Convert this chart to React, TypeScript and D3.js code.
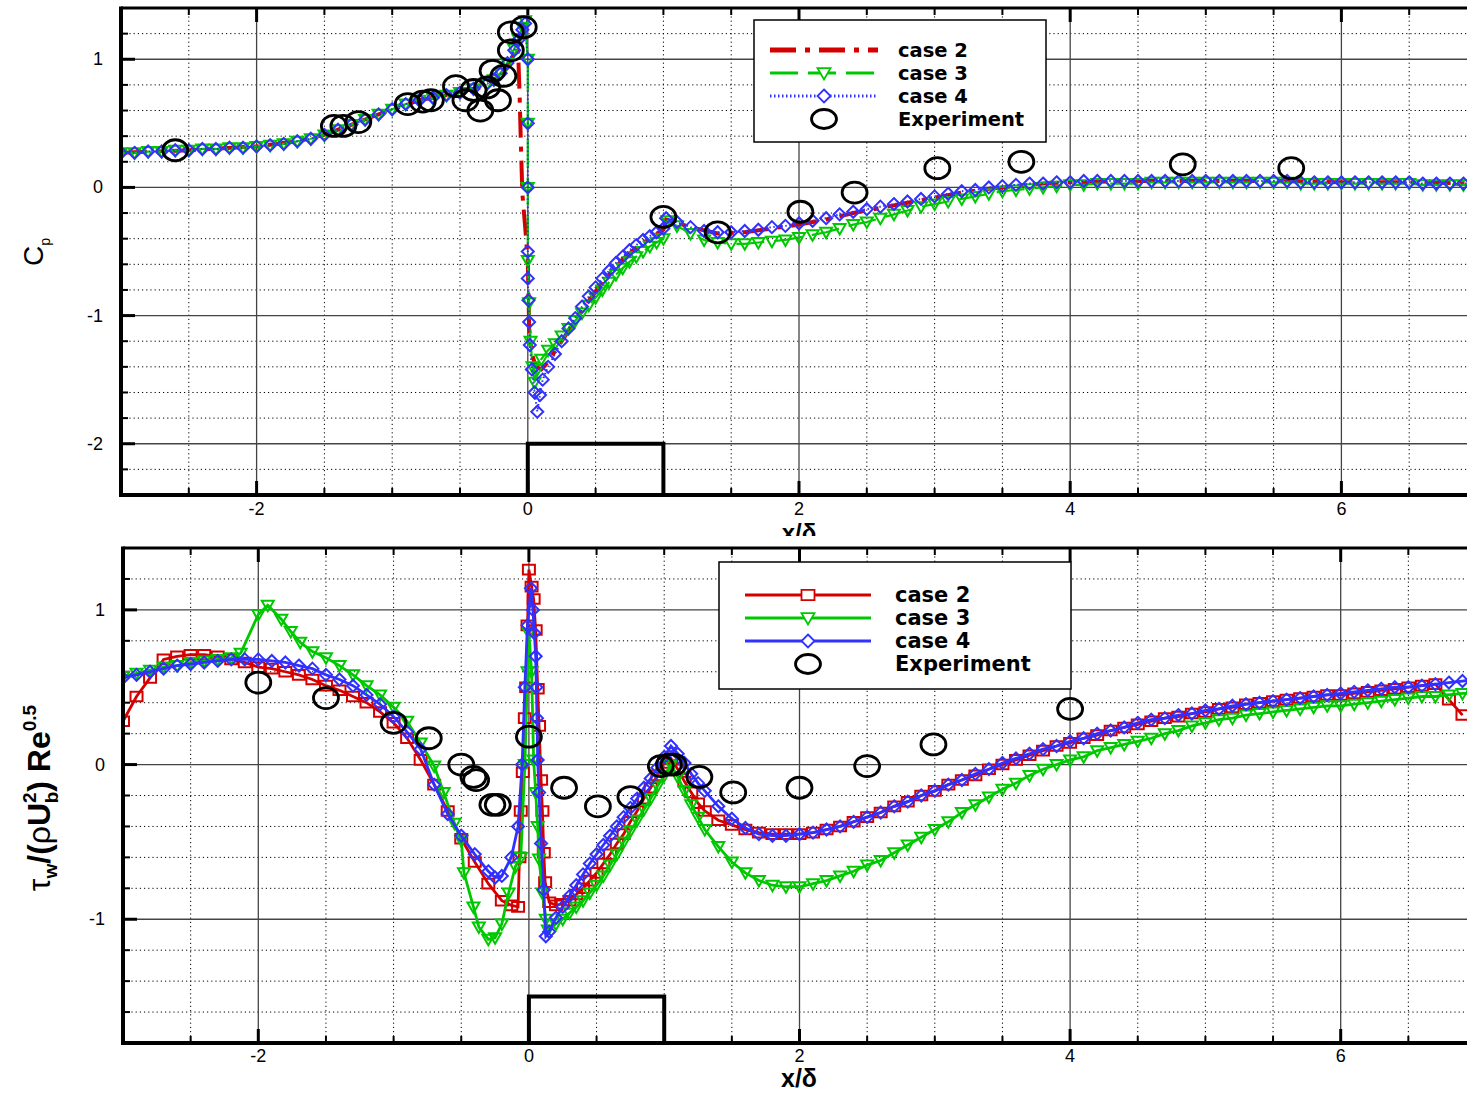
import React from 'react';
import * as d3 from 'd3';

type Pt = [number, number];
type Marker = 'tri' | 'dia' | 'sq';

// ---------- data: top panel, Cp ----------
const cpCase2: Pt[] = [
  [-3.0, 0.27], [-2.5, 0.29], [-2.0, 0.32], [-1.7, 0.36], [-1.5, 0.41], [-1.2, 0.53], [-1.0, 0.61], [-0.8, 0.68],
  [-0.6, 0.72], [-0.4, 0.77], [-0.3, 0.81], [-0.2, 0.88], [-0.15, 0.95], [-0.1, 1.04], [-0.08, 1.1], [-0.07, 1.02],
  [-0.06, 0.7], [-0.05, 0.3], [-0.04, -0.05], [-0.02, -0.3], [0.0, -0.57], [0.01, -1.1], [0.03, -1.3], [0.06, -1.4],
  [0.1, -1.42], [0.15, -1.36], [0.2, -1.28], [0.3, -1.12], [0.4, -0.96], [0.5, -0.81], [0.6, -0.68], [0.7, -0.56],
  [0.8, -0.47], [0.9, -0.4], [1.0, -0.33], [1.02, -0.25], [1.2, -0.31], [1.4, -0.36], [1.6, -0.35], [1.8, -0.32],
  [2.0, -0.29], [2.2, -0.25], [2.4, -0.2], [2.6, -0.16], [2.8, -0.12], [3.0, -0.08], [3.2, -0.04], [3.4, -0.01],
  [3.6, 0.01], [3.8, 0.03], [4.0, 0.04], [4.5, 0.05], [5.0, 0.05], [5.5, 0.05], [6.0, 0.04], [6.5, 0.04], [7.0, 0.03],
];

const cpCase3: Pt[] = [
  [-3.0, 0.27], [-2.9, 0.27], [-2.8, 0.28], [-2.7, 0.28], [-2.6, 0.29], [-2.5, 0.29], [-2.4, 0.3], [-2.3, 0.3],
  [-2.2, 0.31], [-2.1, 0.31], [-2.0, 0.32], [-1.9, 0.33], [-1.8, 0.34], [-1.7, 0.36], [-1.6, 0.38], [-1.5, 0.41],
  [-1.4, 0.45], [-1.3, 0.49], [-1.2, 0.53], [-1.1, 0.57], [-1.0, 0.61], [-0.9, 0.65], [-0.8, 0.68], [-0.7, 0.7],
  [-0.6, 0.72], [-0.5, 0.74], [-0.4, 0.77], [-0.3, 0.81], [-0.25, 0.84], [-0.2, 0.89], [-0.15, 0.97], [-0.1, 1.08],
  [-0.07, 1.16], [-0.04, 1.25], [-0.02, 1.3], [0.0, 1.0], [0.0, 0.5], [0.0, 0.0], [0.0, -0.57], [0.01, -0.9],
  [0.02, -1.2], [0.035, -1.4], [0.05, -1.52], [0.07, -1.42], [0.1, -1.34], [0.15, -1.27], [0.2, -1.22], [0.25, -1.16],
  [0.3, -1.1], [0.35, -1.04], [0.4, -0.98], [0.45, -0.92], [0.5, -0.86], [0.55, -0.8], [0.6, -0.74], [0.65, -0.68],
  [0.7, -0.63], [0.75, -0.58], [0.8, -0.54], [0.85, -0.5], [0.9, -0.46], [0.95, -0.43], [1.0, -0.4], [1.03, -0.26],
  [1.1, -0.3], [1.2, -0.36], [1.3, -0.41], [1.4, -0.43], [1.5, -0.44], [1.6, -0.44], [1.7, -0.43], [1.8, -0.42],
  [1.9, -0.41], [2.0, -0.39], [2.1, -0.37], [2.2, -0.35], [2.3, -0.32], [2.4, -0.29], [2.5, -0.27], [2.6, -0.24],
  [2.7, -0.21], [2.8, -0.18], [2.9, -0.15], [3.0, -0.13], [3.1, -0.11], [3.2, -0.09], [3.3, -0.07], [3.4, -0.05],
  [3.5, -0.03], [3.6, -0.02], [3.7, -0.01], [3.8, 0.0], [3.9, 0.01], [4.0, 0.02], [4.1, 0.02], [4.2, 0.03],
  [4.3, 0.03], [4.4, 0.03], [4.5, 0.03], [4.6, 0.04], [4.7, 0.04], [4.8, 0.04], [4.9, 0.04], [5.0, 0.04],
  [5.1, 0.04], [5.2, 0.04], [5.3, 0.04], [5.4, 0.04], [5.5, 0.04], [5.6, 0.04], [5.7, 0.03], [5.8, 0.03],
  [5.9, 0.03], [6.0, 0.03], [6.1, 0.03], [6.2, 0.03], [6.3, 0.03], [6.4, 0.03], [6.5, 0.03], [6.6, 0.02],
  [6.7, 0.02], [6.8, 0.02], [6.9, 0.02], [7.0, 0.02],
];

const cpCase4: Pt[] = [
  [-3.0, 0.27], [-2.9, 0.27], [-2.8, 0.28], [-2.7, 0.28], [-2.6, 0.29], [-2.5, 0.29], [-2.4, 0.3], [-2.3, 0.3],
  [-2.2, 0.31], [-2.1, 0.31], [-2.0, 0.32], [-1.9, 0.33], [-1.8, 0.34], [-1.7, 0.36], [-1.6, 0.38], [-1.5, 0.41],
  [-1.4, 0.45], [-1.3, 0.49], [-1.2, 0.53], [-1.1, 0.57], [-1.0, 0.61], [-0.9, 0.65], [-0.8, 0.68], [-0.7, 0.7],
  [-0.6, 0.72], [-0.5, 0.74], [-0.4, 0.77], [-0.3, 0.81], [-0.25, 0.84], [-0.2, 0.89], [-0.15, 0.97], [-0.1, 1.07],
  [-0.07, 1.15], [-0.04, 1.23], [-0.02, 1.28], [0.0, 1.0], [0.0, 0.5], [0.0, 0.0], [0.0, -0.5], [0.0, -0.71],
  [0.005, -0.88], [0.01, -1.05], [0.015, -1.23], [0.03, -1.42], [0.05, -1.6], [0.07, -1.75], [0.09, -1.62], [0.11, -1.5],
  [0.15, -1.4], [0.2, -1.3], [0.25, -1.2], [0.3, -1.1], [0.35, -1.02], [0.4, -0.93], [0.45, -0.85], [0.5, -0.78],
  [0.55, -0.71], [0.6, -0.65], [0.65, -0.59], [0.7, -0.54], [0.75, -0.49], [0.8, -0.45], [0.85, -0.41], [0.9, -0.38],
  [0.95, -0.35], [1.0, -0.32], [1.02, -0.24], [1.1, -0.27], [1.2, -0.31], [1.3, -0.34], [1.4, -0.35], [1.5, -0.35],
  [1.6, -0.34], [1.7, -0.33], [1.8, -0.31], [1.9, -0.3], [2.0, -0.28], [2.1, -0.26], [2.2, -0.24], [2.3, -0.21],
  [2.4, -0.19], [2.5, -0.17], [2.6, -0.15], [2.7, -0.13], [2.8, -0.11], [2.9, -0.09], [3.0, -0.07], [3.1, -0.05],
  [3.2, -0.03], [3.3, -0.02], [3.4, 0.0], [3.5, 0.01], [3.6, 0.02], [3.7, 0.03], [3.8, 0.03], [3.9, 0.04],
  [4.0, 0.04], [4.1, 0.05], [4.2, 0.05], [4.3, 0.05], [4.4, 0.05], [4.5, 0.05], [4.6, 0.05], [4.7, 0.05],
  [4.8, 0.05], [4.9, 0.05], [5.0, 0.05], [5.1, 0.05], [5.2, 0.05], [5.3, 0.05], [5.4, 0.05], [5.5, 0.05],
  [5.6, 0.05], [5.7, 0.04], [5.8, 0.04], [5.9, 0.04], [6.0, 0.04], [6.1, 0.04], [6.2, 0.04], [6.3, 0.04],
  [6.4, 0.04], [6.5, 0.04], [6.6, 0.03], [6.7, 0.03], [6.8, 0.03], [6.9, 0.03], [7.0, 0.03],
];

const cpExperiment: Pt[] = [
  [-2.6, 0.29], [-1.43, 0.48], [-1.36, 0.48], [-1.25, 0.51], [-0.885, 0.65], [-0.775, 0.67], [-0.715, 0.68],
  [-0.53, 0.79], [-0.46, 0.68], [-0.4, 0.76], [-0.35, 0.6], [-0.3, 0.78], [-0.26, 0.91], [-0.22, 0.68],
  [-0.18, 0.87], [-0.125, 1.07], [-0.125, 1.21], [-0.03, 1.25], [1.0, -0.23], [1.4, -0.35], [2.01, -0.19],
  [2.41, -0.04], [3.02, 0.15], [3.64, 0.2], [4.83, 0.18], [5.63, 0.15],
];

// ---------- data: bottom panel, wall shear ----------
const twCase2: Pt[] = [
  [-3.0, 0.28], [-2.9, 0.44], [-2.8, 0.56], [-2.7, 0.68], [-2.6, 0.7], [-2.5, 0.71], [-2.4, 0.71], [-2.3, 0.7],
  [-2.2, 0.68], [-2.1, 0.66], [-2.0, 0.63], [-1.9, 0.62], [-1.8, 0.6], [-1.7, 0.58], [-1.6, 0.55], [-1.5, 0.51],
  [-1.4, 0.48], [-1.3, 0.44], [-1.2, 0.4], [-1.1, 0.34], [-1.0, 0.27], [-0.9, 0.17], [-0.8, 0.03], [-0.7, -0.13],
  [-0.6, -0.3], [-0.5, -0.48], [-0.4, -0.63], [-0.3, -0.77], [-0.2, -0.88], [-0.13, -0.91], [-0.08, -0.92],
  [-0.07, -0.6], [-0.06, -0.3], [-0.045, -0.05], [-0.03, 0.3], [-0.02, 0.5], [-0.01, 0.9], [0.0, 1.26],
  [0.02, 1.15], [0.035, 1.07], [0.05, 0.87], [0.065, 0.49], [0.075, 0.25], [0.09, -0.1], [0.1, -0.3], [0.11, -0.57],
  [0.12, -0.76], [0.15, -0.89], [0.2, -0.91], [0.25, -0.9], [0.3, -0.88], [0.35, -0.84], [0.4, -0.8], [0.45, -0.75],
  [0.5, -0.7], [0.55, -0.64], [0.6, -0.58], [0.65, -0.51], [0.7, -0.45], [0.75, -0.37], [0.8, -0.3], [0.85, -0.22],
  [0.9, -0.15], [0.95, -0.07], [1.0, 0.01], [1.05, 0.04], [1.1, -0.03], [1.15, -0.11], [1.2, -0.18], [1.25, -0.25],
  [1.3, -0.3], [1.4, -0.36], [1.5, -0.39], [1.6, -0.42], [1.7, -0.44], [1.8, -0.45], [1.9, -0.45], [2.0, -0.45],
  [2.1, -0.44], [2.2, -0.42], [2.3, -0.4], [2.4, -0.37], [2.5, -0.34], [2.6, -0.31], [2.7, -0.27], [2.8, -0.24],
  [2.9, -0.2], [3.0, -0.17], [3.1, -0.13], [3.2, -0.1], [3.3, -0.07], [3.4, -0.03], [3.5, 0.0], [3.6, 0.03],
  [3.7, 0.06], [3.8, 0.09], [3.9, 0.12], [4.0, 0.14], [4.1, 0.17], [4.2, 0.19], [4.3, 0.22], [4.4, 0.24],
  [4.5, 0.26], [4.6, 0.28], [4.7, 0.3], [4.8, 0.31], [4.9, 0.33], [5.0, 0.34], [5.1, 0.36], [5.2, 0.37],
  [5.3, 0.39], [5.4, 0.4], [5.5, 0.41], [5.6, 0.42], [5.7, 0.43], [5.8, 0.44], [5.9, 0.45], [6.0, 0.45],
  [6.1, 0.46], [6.2, 0.47], [6.3, 0.48], [6.4, 0.49], [6.5, 0.5], [6.6, 0.51], [6.7, 0.52], [6.8, 0.42], [6.9, 0.32],
];

const twCase3: Pt[] = [
  [-3.0, 0.57], [-2.9, 0.59], [-2.8, 0.61], [-2.7, 0.63], [-2.6, 0.64], [-2.5, 0.66], [-2.4, 0.67], [-2.3, 0.68],
  [-2.2, 0.69], [-2.13, 0.72], [-2.0, 0.97], [-1.93, 1.03], [-1.83, 0.94], [-1.76, 0.86], [-1.69, 0.79], [-1.6, 0.73],
  [-1.5, 0.69], [-1.4, 0.64], [-1.3, 0.58], [-1.2, 0.51], [-1.1, 0.45], [-1.0, 0.37], [-0.9, 0.28], [-0.8, 0.14],
  [-0.7, -0.01], [-0.63, -0.18], [-0.55, -0.38], [-0.5, -0.49], [-0.48, -0.7], [-0.41, -0.92], [-0.37, -1.05],
  [-0.3, -1.13], [-0.25, -1.12], [-0.2, -1.03], [-0.15, -0.83], [-0.1, -0.66], [-0.06, -0.6], [-0.03, 0.0],
  [-0.01, 0.6], [0.0, 0.85], [0.02, 0.6], [0.035, 0.03], [0.05, -0.18], [0.065, -0.4], [0.075, -0.61], [0.1, -0.83],
  [0.125, -1.0], [0.14, -1.07], [0.2, -1.03], [0.25, -1.0], [0.3, -0.96], [0.35, -0.92], [0.4, -0.88], [0.45, -0.83],
  [0.5, -0.78], [0.55, -0.72], [0.6, -0.65], [0.65, -0.58], [0.7, -0.5], [0.75, -0.43], [0.8, -0.36], [0.85, -0.29],
  [0.9, -0.22], [0.95, -0.14], [1.0, -0.07], [1.05, 0.0], [1.1, -0.08], [1.15, -0.17], [1.2, -0.26], [1.25, -0.34],
  [1.3, -0.42], [1.4, -0.53], [1.5, -0.63], [1.6, -0.7], [1.7, -0.75], [1.8, -0.78], [1.9, -0.79], [2.0, -0.79],
  [2.1, -0.77], [2.2, -0.75], [2.3, -0.72], [2.4, -0.69], [2.5, -0.65], [2.6, -0.62], [2.7, -0.57], [2.8, -0.52],
  [2.9, -0.47], [3.0, -0.42], [3.1, -0.37], [3.2, -0.31], [3.3, -0.26], [3.4, -0.21], [3.5, -0.16], [3.6, -0.12],
  [3.7, -0.07], [3.8, -0.03], [3.9, 0.0], [4.0, 0.03], [4.1, 0.05], [4.2, 0.09], [4.3, 0.11], [4.4, 0.13],
  [4.5, 0.15], [4.6, 0.17], [4.7, 0.2], [4.8, 0.22], [4.9, 0.25], [5.0, 0.27], [5.1, 0.29], [5.2, 0.3],
  [5.3, 0.32], [5.4, 0.33], [5.5, 0.34], [5.6, 0.35], [5.7, 0.36], [5.8, 0.37], [5.9, 0.38], [6.0, 0.38],
  [6.1, 0.39], [6.2, 0.4], [6.3, 0.41], [6.4, 0.42], [6.5, 0.43], [6.6, 0.44], [6.7, 0.44], [6.8, 0.45],
  [6.9, 0.46], [7.0, 0.46],
];

const twCase4: Pt[] = [
  [-3.0, 0.56], [-2.9, 0.58], [-2.8, 0.6], [-2.7, 0.62], [-2.6, 0.64], [-2.5, 0.65], [-2.4, 0.66], [-2.3, 0.67],
  [-2.2, 0.68], [-2.1, 0.68], [-2.0, 0.68], [-1.9, 0.67], [-1.8, 0.66], [-1.7, 0.64], [-1.6, 0.62], [-1.5, 0.58],
  [-1.4, 0.55], [-1.3, 0.51], [-1.2, 0.45], [-1.1, 0.39], [-1.0, 0.31], [-0.9, 0.21], [-0.8, 0.1], [-0.7, -0.13],
  [-0.6, -0.32], [-0.5, -0.46], [-0.4, -0.58], [-0.3, -0.69], [-0.25, -0.73], [-0.2, -0.72], [-0.13, -0.6],
  [-0.08, -0.4], [-0.05, 0.0], [-0.03, 0.5], [-0.01, 0.9], [0.015, 1.14], [0.03, 1.0], [0.04, 0.85], [0.05, 0.7],
  [0.055, 0.5], [0.06, 0.3], [0.065, 0.03], [0.075, -0.18], [0.09, -0.51], [0.11, -0.81], [0.125, -1.11],
  [0.15, -1.08], [0.2, -0.99], [0.25, -0.92], [0.3, -0.85], [0.35, -0.78], [0.4, -0.71], [0.45, -0.64], [0.5, -0.58],
  [0.55, -0.52], [0.6, -0.46], [0.65, -0.4], [0.7, -0.34], [0.75, -0.28], [0.8, -0.22], [0.85, -0.15], [0.9, -0.09],
  [0.95, -0.02], [1.0, 0.05], [1.05, 0.12], [1.1, 0.07], [1.15, 0.01], [1.2, -0.06], [1.25, -0.12], [1.3, -0.17],
  [1.4, -0.27], [1.5, -0.35], [1.6, -0.41], [1.7, -0.45], [1.8, -0.46], [1.9, -0.46], [2.0, -0.45], [2.1, -0.44],
  [2.2, -0.42], [2.3, -0.4], [2.4, -0.37], [2.5, -0.34], [2.6, -0.31], [2.7, -0.27], [2.8, -0.24], [2.9, -0.2],
  [3.0, -0.17], [3.1, -0.13], [3.2, -0.1], [3.3, -0.06], [3.4, -0.03], [3.5, 0.01], [3.6, 0.04], [3.7, 0.07],
  [3.8, 0.1], [3.9, 0.12], [4.0, 0.15], [4.1, 0.17], [4.2, 0.2], [4.3, 0.22], [4.4, 0.24], [4.5, 0.27],
  [4.6, 0.29], [4.7, 0.3], [4.8, 0.32], [4.9, 0.33], [5.0, 0.35], [5.1, 0.36], [5.2, 0.38], [5.3, 0.39],
  [5.4, 0.4], [5.5, 0.41], [5.6, 0.42], [5.7, 0.43], [5.8, 0.44], [5.9, 0.45], [6.0, 0.46], [6.1, 0.47],
  [6.2, 0.48], [6.3, 0.49], [6.4, 0.5], [6.5, 0.5], [6.6, 0.51], [6.7, 0.52], [6.8, 0.53], [6.9, 0.54], [7.0, 0.55],
];

const twExperiment: Pt[] = [
  [-2.0, 0.53], [-1.5, 0.43], [-1.0, 0.27], [-0.74, 0.17], [-0.5, 0.0], [-0.41, -0.08], [-0.39, -0.1],
  [-0.27, -0.26], [-0.23, -0.26], [0.0, 0.18], [0.26, -0.15], [0.51, -0.27], [0.75, -0.21], [0.975, -0.01],
  [1.035, 0.0], [1.07, 0.0], [1.26, -0.08], [1.51, -0.18], [2.0, -0.15], [2.5, -0.01], [2.99, 0.13], [4.0, 0.36],
];

const xTickLabels = [-2, 0, 2, 4, 6];
const cpTickLabels = [-2, -1, 0, 1];
const twTickLabels = [-1, 0, 1];
const legendNames = ['case 2', 'case 3', 'case 4', 'Experiment'];

// ---------- drawing ----------
const W = 1467;
const H = 1094;
const RED = '#d40000';
const GREEN = '#00c800';
const BLUE = '#3030ff';
const FONT = "'Liberation Sans', Arial, sans-serif";
const LFONT = "'DejaVu Sans', sans-serif";

interface Series {
  data: Pt[];
  color: string;
  width: number;
  dash?: string;
  marker?: Marker;
}

function markerD(kind: Marker, s: number): string {
  const h = s / 2;
  if (kind === 'tri') return `M${-h},${-h * 0.75}L${h},${-h * 0.75}L0,${h}Z`;
  if (kind === 'dia') return `M0,${-h}L${h},0L0,${h}L${-h},0Z`;
  return `M${-h},${-h * 0.8}L${h},${-h * 0.8}L${h},${h * 0.8}L${-h},${h * 0.8}Z`;
}

interface PanelProps {
  id: string;
  xLeft: number;
  xRight: number;
  yTop: number;
  yBottom: number;
  yDomain: [number, number];
  yLabels: number[];
  series: Series[];
  exp: Pt[];
  obstacleTop: number;
  legend: { x: number; y: number; w: number; h: number; l1: number; l2: number; tx: number; row0: number; fs: number };
  tickLabelY: number;
}

function Panel(p: PanelProps) {
  const x = d3.scaleLinear().domain([-3, 7]).range([p.xLeft, p.xRight]);
  const y = d3.scaleLinear().domain(p.yDomain).range([p.yBottom, p.yTop]);
  const line = d3.line<Pt>().x((d) => x(d[0])).y((d) => y(d[1]));

  const xMinor = d3.range(-2.5, 7.01, 0.5).filter((v) => Math.abs(v % 2) > 1e-6);
  const yMinor = d3
    .range(p.yDomain[0], p.yDomain[1] + 1e-6, 0.2)
    .filter((v) => Math.abs(v - Math.round(v)) > 1e-6);
  const yMajor = d3.range(Math.ceil(p.yDomain[0]), p.yDomain[1] + 1e-6, 1);

  const lg = p.legend;
  const mid = (lg.l1 + lg.l2) / 2;

  return (
    <g>
      <defs>
        <clipPath id={p.id}>
          <rect x={p.xLeft} y={p.yTop} width={W - p.xLeft} height={p.yBottom - p.yTop} />
        </clipPath>
      </defs>
      {/* grid */}
      {xMinor.map((v) => (
        <line key={'xm' + v} x1={x(v)} x2={x(v)} y1={p.yTop} y2={p.yBottom} stroke="#000" strokeWidth={1} strokeDasharray="1.2,3" />
      ))}
      {yMinor.map((v) => (
        <line key={'ym' + v} x1={p.xLeft} x2={W} y1={y(v)} y2={y(v)} stroke="#000" strokeWidth={1} strokeDasharray="1.2,3" />
      ))}
      {xTickLabels.map((v) => (
        <line key={'xM' + v} x1={x(v)} x2={x(v)} y1={p.yTop} y2={p.yBottom} stroke="#444" strokeWidth={1.3} />
      ))}
      {yMajor.map((v) => (
        <line key={'yM' + v} x1={p.xLeft} x2={W} y1={y(v)} y2={y(v)} stroke="#444" strokeWidth={1.3} />
      ))}

      {/* ticks */}
      {xMinor.map((v) => (
        <g key={'xt' + v}>
          <line x1={x(v)} x2={x(v)} y1={p.yBottom} y2={p.yBottom - 7} stroke="#000" strokeWidth={2} />
          <line x1={x(v)} x2={x(v)} y1={p.yTop} y2={p.yTop + 7} stroke="#000" strokeWidth={2} />
        </g>
      ))}
      {xTickLabels.map((v) => (
        <g key={'xT' + v}>
          <line x1={x(v)} x2={x(v)} y1={p.yBottom} y2={p.yBottom - 14} stroke="#000" strokeWidth={3} />
          <line x1={x(v)} x2={x(v)} y1={p.yTop} y2={p.yTop + 14} stroke="#000" strokeWidth={3} />
          <text x={x(v)} y={p.tickLabelY} textAnchor="middle" fontFamily={FONT} fontSize={18}>
            {v}
          </text>
        </g>
      ))}
      {yMinor.map((v) => (
        <line key={'yt' + v} x1={p.xLeft} x2={p.xLeft + 7} y1={y(v)} y2={y(v)} stroke="#000" strokeWidth={2} />
      ))}
      {p.yLabels.map((v) => (
        <g key={'yT' + v}>
          <line x1={p.xLeft} x2={p.xLeft + 14} y1={y(v)} y2={y(v)} stroke="#000" strokeWidth={3} />
          <text x={p.xLeft - 18} y={y(v) + 6} textAnchor="end" fontFamily={FONT} fontSize={18}>
            {v}
          </text>
        </g>
      ))}

      {/* series */}
      <g clipPath={`url(#${p.id})`}>
        {p.series.map((s, i) => (
          <g key={'s' + i}>
            <path d={line(s.data) || ''} fill="none" stroke={s.color} strokeWidth={s.width} strokeDasharray={s.dash} />
            {s.marker &&
              s.data.map((d, j) => (
                <path
                  key={j}
                  transform={`translate(${x(d[0])},${y(d[1])})`}
                  d={markerD(s.marker as Marker, 12)}
                  fill="none"
                  stroke={s.color}
                  strokeWidth={2}
                />
              ))}
          </g>
        ))}
        {p.exp.map((d, j) => (
          <ellipse key={'e' + j} cx={x(d[0])} cy={y(d[1])} rx={12.5} ry={10.5} fill="none" stroke="#000" strokeWidth={2.8} />
        ))}
      </g>

      {/* obstacle */}
      <path
        d={`M${x(0)},${p.yBottom}L${x(0)},${y(p.obstacleTop)}L${x(1)},${y(p.obstacleTop)}L${x(1)},${p.yBottom}`}
        fill="none"
        stroke="#000"
        strokeWidth={4}
      />

      {/* frame */}
      <line x1={p.xLeft} x2={W} y1={p.yTop} y2={p.yTop} stroke="#000" strokeWidth={3} />
      <line x1={p.xLeft} x2={W} y1={p.yBottom} y2={p.yBottom} stroke="#000" strokeWidth={4} />
      <line x1={p.xLeft} x2={p.xLeft} y1={p.yTop - 1.5} y2={p.yBottom + 2} stroke="#000" strokeWidth={4} />

      {/* legend */}
      <rect x={lg.x} y={lg.y} width={lg.w} height={lg.h} fill="#fff" stroke="#000" strokeWidth={1.5} />
      {p.series.map((s, i) => {
        const ry = lg.row0 + i * 23;
        return (
          <g key={'l' + i}>
            <line x1={lg.l1} x2={lg.l2} y1={ry} y2={ry} stroke={s.color} strokeWidth={s.dash ? s.width + 1 : s.width} strokeDasharray={s.dash} />
            {s.marker && (
              <path transform={`translate(${mid},${ry})`} d={markerD(s.marker, 13)} fill="#fff" stroke={s.color} strokeWidth={1.8} />
            )}
          </g>
        );
      })}
      <ellipse cx={mid} cy={lg.row0 + 3 * 23} rx={12.5} ry={9.5} fill="none" stroke="#000" strokeWidth={2.8} />
      {legendNames.map((n, i) => (
        <text key={n} x={lg.tx} y={lg.row0 + i * 23 + 7} fontFamily={LFONT} fontWeight="bold" fontSize={lg.fs}>
          {n}
        </text>
      ))}
    </g>
  );
}

export default function App() {
  const topSeries: Series[] = [
    { data: cpCase2, color: RED, width: 4, dash: '26,9,5,9' },
    { data: cpCase3, color: GREEN, width: 2.2, dash: '28,10', marker: 'tri' },
    { data: cpCase4, color: BLUE, width: 2, dash: '1.5,2.5', marker: 'dia' },
  ];
  const botSeries: Series[] = [
    { data: twCase2, color: RED, width: 2.8, marker: 'sq' },
    { data: twCase3, color: GREEN, width: 2.8, marker: 'tri' },
    { data: twCase4, color: BLUE, width: 2.8, marker: 'dia' },
  ];

  return (
    <div style={{ position: 'absolute', left: 0, top: 0, width: W, height: H, background: '#fff' }}>
      <svg width={W} height={H} viewBox={`0 0 ${W} ${H}`} style={{ display: 'block' }}>
        <rect x={0} y={0} width={W} height={H} fill="#fff" />
        <defs>
          <clipPath id="toplabelclip">
            <rect x={0} y={0} width={W} height={536} />
          </clipPath>
        </defs>

        <Panel
          id="clipTop"
          xLeft={121}
          xRight={1477}
          yTop={8}
          yBottom={495}
          yDomain={[-2.4, 1.4]}
          yLabels={cpTickLabels}
          series={topSeries}
          exp={cpExperiment}
          obstacleTop={-2}
          tickLabelY={515}
          legend={{ x: 754, y: 20, w: 292, h: 122, l1: 770, l2: 878, tx: 898, row0: 50, fs: 19.5 }}
        />
        <text
          x={799}
          y={541}
          textAnchor="middle"
          fontFamily={FONT}
          fontWeight="bold"
          fontSize={24}
          clipPath="url(#toplabelclip)"
        >
          x/δ
        </text>
        <text transform="translate(43,252) rotate(-90)" textAnchor="middle" fontFamily={FONT} fontSize={28}>
          C<tspan fontSize={14} dy={7}>p</tspan>
        </text>

        <Panel
          id="clipBot"
          xLeft={123}
          xRight={1476}
          yTop={548}
          yBottom={1043}
          yDomain={[-1.8, 1.4]}
          yLabels={twTickLabels}
          series={botSeries}
          exp={twExperiment}
          obstacleTop={-1.5}
          tickLabelY={1062}
          legend={{ x: 719, y: 562, w: 352, h: 127, l1: 745, l2: 871, tx: 895, row0: 595, fs: 21 }}
        />
        <text x={799} y={1087} textAnchor="middle" fontFamily={FONT} fontWeight="bold" fontSize={25}>
          x/δ
        </text>
        <text transform="translate(50,798) rotate(-90)" textAnchor="middle" fontFamily={FONT} fontSize={32} fontWeight="bold">
          <tspan fontWeight="normal">τ</tspan>
          <tspan fontSize={19} dy={7}>w</tspan>
          <tspan dy={-7}>/(</tspan>
          <tspan fontWeight="normal">ρ</tspan>
          <tspan>U</tspan>
          <tspan fontSize={19} dy={-14}>2</tspan>
          <tspan fontSize={19} dx={-11} dy={22}>b</tspan>
          <tspan dy={-8}>) Re</tspan>
          <tspan fontSize={19} dy={-14}>0.5</tspan>
        </text>
      </svg>
    </div>
  );
}
